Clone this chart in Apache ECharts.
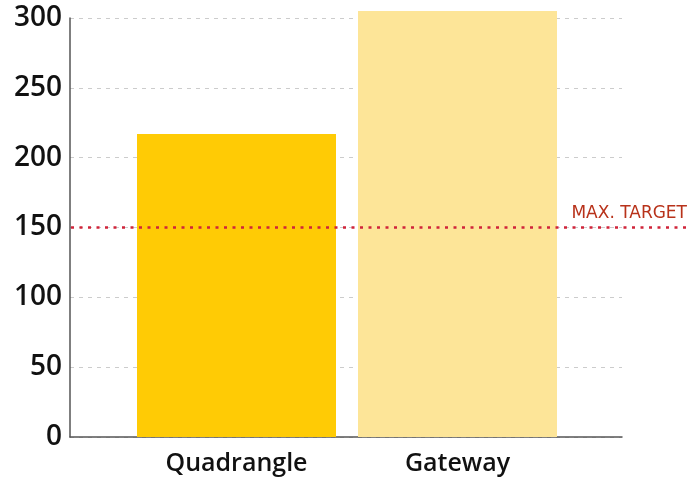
<!DOCTYPE html>
<html><head><meta charset="utf-8">
<script src="https://cdn.jsdelivr.net/npm/echarts@6/dist/echarts.min.js"></script>
<style>html,body{margin:0;padding:0;background:#fff}#c{width:690px;height:481px}</style>
</head><body><div id="c"></div>
<script>
const categories = ['Quadrangle', 'Gateway'];
const values = [217, 305];
const barColors = ['#FFCB05', '#FDE598'];
const targetValue = 150;
const targetLabel = 'MAX. TARGET';
const yMin = 0, yMax = 300, yInterval = 50;

const chart = echarts.init(document.getElementById('c'));
const gTop = 18, gBottom = 44;
chart.setOption({
  animation: false,
  grid: [
    {left: 70, right: 68, top: gTop, bottom: gBottom},
    {left: 126, right: 122, top: gTop, bottom: gBottom},
    {left: 71, right: 0, top: gTop, bottom: gBottom}
  ],
  xAxis: [
    {gridIndex: 0, type: 'category', data: [''], axisLine: {show: true, lineStyle: {color: '#555', width: 1.5}}, axisTick: {show: false}, axisLabel: {show: false}},
    {gridIndex: 1, type: 'category', data: categories, axisLine: {show: false}, axisTick: {show: false},
      axisLabel: {color: '#111', fontSize: 25, fontWeight: 600, fontFamily: 'Open Sans', margin: 14}},
    {gridIndex: 2, type: 'category', data: [''], show: false}
  ],
  yAxis: [
    {gridIndex: 0, type: 'value', min: yMin, max: yMax, interval: yInterval,
      axisLine: {show: true, lineStyle: {color: '#555', width: 1.5}}, axisTick: {show: false},
      axisLabel: {color: '#111', fontSize: 28, fontFamily: 'Open Sans', fontWeight: 600, margin: 8},
      splitLine: {show: true, lineStyle: {color: '#ccc', type: [4, 5], width: 1}}},
    {gridIndex: 1, type: 'value', min: yMin, max: yMax, show: false, splitLine: {show: false}},
    {gridIndex: 2, type: 'value', min: yMin, max: yMax, show: false, splitLine: {show: false}}
  ],
  series: [
    {type: 'bar', xAxisIndex: 1, yAxisIndex: 1, barWidth: 199, clip: false,
      data: values.map((v, i) => ({value: v, itemStyle: {color: barColors[i]}}))},
    {type: 'line', xAxisIndex: 2, yAxisIndex: 2, data: [], silent: true,
      markLine: {symbol: 'none', silent: true,
        lineStyle: {color: '#D0243A', width: 2.5, type: [3, 5.5], cap: 'butt'},
        label: {show: true, position: 'insideEndTop', formatter: targetLabel, color: '#B8321A',
          fontSize: 17, fontFamily: 'DejaVu Sans', distance: [3, 5]},
        data: [{yAxis: targetValue}]}}
  ]
});
</script></body></html>
